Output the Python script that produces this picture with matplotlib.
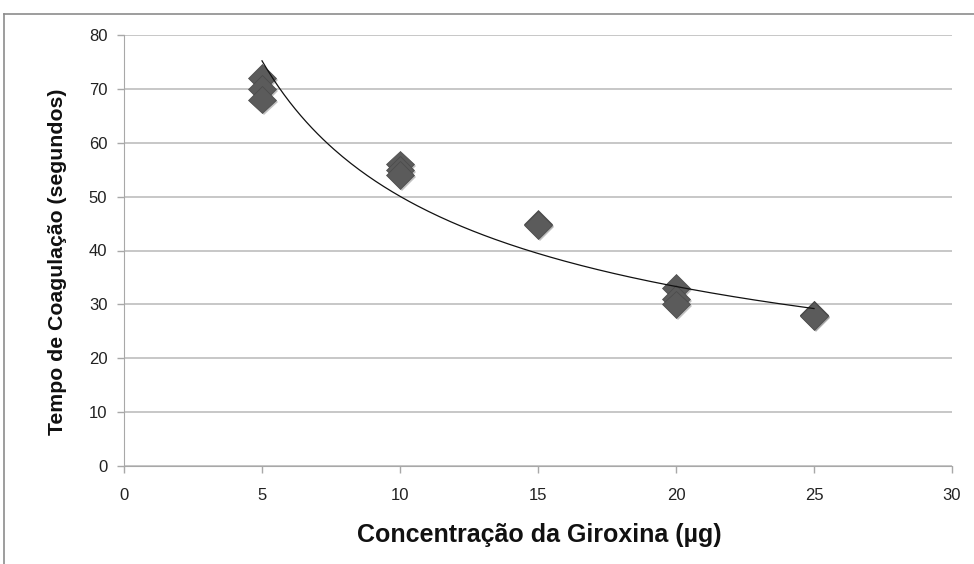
import numpy as np
import matplotlib
matplotlib.use("Agg")
import matplotlib.pyplot as plt
from matplotlib.lines import Line2D
import matplotlib.patheffects as pe

plt.rcParams['font.family'] = ['Liberation Sans', 'DejaVu Sans']

# Data
conc = [5, 5, 5, 10, 10, 10, 15, 15, 20, 20, 20, 25, 25, 25]
tempo = [72, 70, 68, 56, 55, 54, 45, 44.7, 33, 31, 30, 28, 28, 27.8]
x_ticks = [0, 5, 10, 15, 20, 25, 30]
y_ticks = [0, 10, 20, 30, 40, 50, 60, 70, 80]

fig = plt.figure(figsize=(9.74, 5.64), dpi=100)
ax = fig.add_axes([124/974, 98/564, (952-124)/974, (466-35)/564])

# Power trend line (fit in log space, like a spreadsheet power trendline)
b, lna = np.polyfit(np.log(conc), np.log(tempo), 1)
xs = np.linspace(min(conc), max(conc), 200)
ax.plot(xs, np.exp(lna) * xs**b, color='#111111', lw=0.9, zorder=3)

# Markers with soft shadow
ax.plot(conc, tempo, 'D', ms=14, color='#5b5b5b', mec='#4a4a4a', mew=0.5,
        ls='none', zorder=2,
        path_effects=[pe.SimplePatchShadow(offset=(1.5, -1.5), shadow_rgbFace='#999999', alpha=0.6), pe.Normal()])

ax.set_xlim(0, 30)
ax.set_ylim(0, 80)
ax.set_xticks(x_ticks)
ax.set_yticks(y_ticks)
ax.yaxis.grid(True, color='#bdbdbd', lw=1.2)
ax.set_axisbelow(True)
for s in ['top', 'right']:
    ax.spines[s].set_visible(False)
ax.spines['left'].set_color('#a8a8a8')
ax.spines['bottom'].set_color('#a8a8a8')
ax.tick_params(axis='both', colors='#a8a8a8', labelcolor='#222222', labelsize=12, length=5, width=1)
ax.tick_params(axis='x', pad=11)
ax.tick_params(axis='y', pad=7)

ax.set_xlabel('Concentração da Giroxina (µg)', fontsize=18, fontweight='bold', color='#111111')
ax.set_ylabel('Tempo de Coagulação (segundos)', fontsize=15.3, fontweight='bold', color='#111111')
ax.xaxis.set_label_coords(0.502, -0.16)
ax.yaxis.set_label_coords(-0.08, 0.473)
ax.xaxis.label.set_va('center')
ax.yaxis.label.set_va('center')

# Outer chart border
fig.add_artist(Line2D([4/974, 1], [1-14/564, 1-14/564], color='#8c8c8c', lw=1.2, transform=fig.transFigure))
fig.add_artist(Line2D([4/974, 4/974], [0, 1-14/564], color='#8c8c8c', lw=1.2, transform=fig.transFigure))

fig.savefig('out.png', dpi=100)
